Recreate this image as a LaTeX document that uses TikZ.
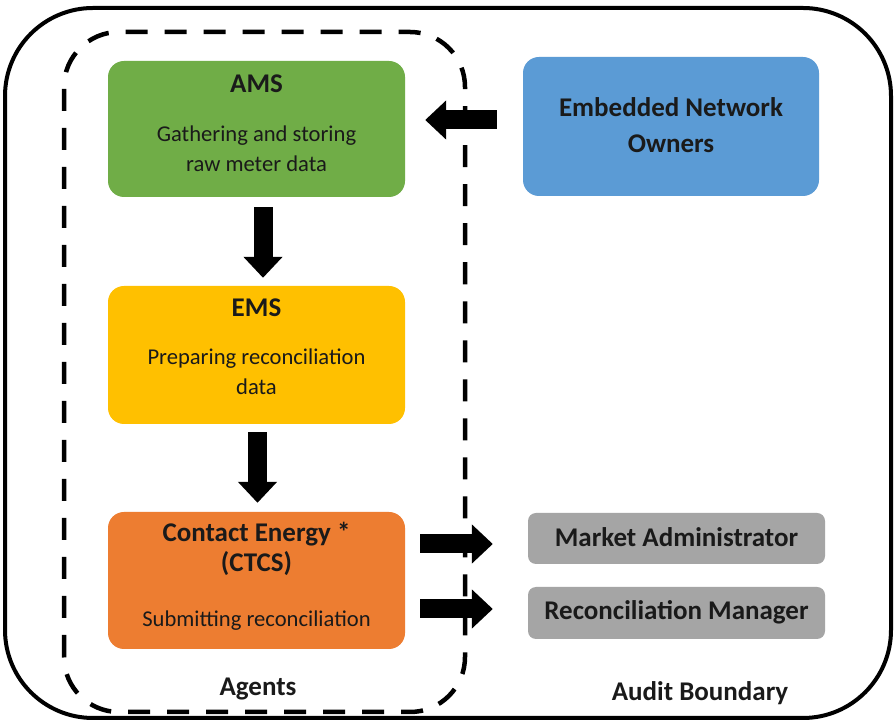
\documentclass[tikz,border=0pt]{standalone}
\usepackage{fontspec}
\setmainfont{Carlito}
\usetikzlibrary{arrows.meta,calc}
\definecolor{amsgreen}{HTML}{70AD47}
\definecolor{emsyellow}{HTML}{FFC000}
\definecolor{ceorange}{HTML}{ED7D31}
\definecolor{enblue}{HTML}{5B9BD5}
\definecolor{boxgray}{HTML}{A5A5A5}
\definecolor{textdark}{HTML}{1A1A1A}
\begin{document}
\begin{tikzpicture}[x=1pt,y=1pt,
  box/.style={rectangle, rounded corners=16pt, minimum width=297pt, inner sep=0pt, draw=none},
  graybox/.style={rectangle, rounded corners=8pt, fill=boxgray, minimum width=297pt, inner sep=0pt, draw=none},
  txt/.style={anchor=base, inner sep=0pt, text=textdark, font=\fontsize{22.6}{26}\selectfont},
  btxt/.style={anchor=base, inner sep=0pt, text=textdark, font=\fontsize{27}{30}\selectfont\bfseries},
  gtxt/.style={anchor=base, inner sep=0pt, text=textdark, font=\fontsize{27}{30}\selectfont\bfseries},
  blockarrow/.style={line width=19pt, -{Triangle[width=38pt,length=21pt]}},
  outerline/.style={line width=4pt, rounded corners=88pt},
  agentline/.style={line width=4.5pt, dash pattern=on 22pt off 17pt, rounded corners=55pt}
]
\useasboundingbox (0,0) rectangle (894,725);
\fill[white] (0,0) rectangle (894,725);

% boundaries
\draw[outerline] (5,7) rectangle (891,717);
\draw[agentline] (64,13) rectangle (465,693);

% boxes
\node[box, fill=amsgreen, minimum height=136pt] (ams) at (256.5,596) {};
\node[box, fill=emsyellow, minimum height=138pt] (ems) at (256.5,370) {};
\node[box, fill=ceorange, minimum height=137pt] (ce) at (256.5,144.5) {};
\node[box, fill=enblue, minimum width=296pt, minimum height=139pt] (en) at (671,598.5) {};
\node[graybox, minimum height=51pt] (ma) at (676.5,186.5) {};
\node[graybox, minimum height=52pt] (rm) at (676.5,112) {};

% texts
\node[btxt] (amsT) at ([yshift=-32pt]ams.north) {AMS};
\node[txt] (amsL1) at ([yshift=-81pt]ams.north) {Gathering and storing};
\node[txt] (amsL2) at ([yshift=-111pt]ams.north) {raw meter data};

\node[btxt] (emsT) at ([yshift=-31pt]ems.north) {EMS};
\node[txt] (emsL1) at ([yshift=-79pt]ems.north) {Preparing reconciliation};
\node[txt] (emsL2) at ([yshift=-109pt]ems.north) {data};

\node[btxt] (ceT1) at ([yshift=-30pt]ce.north) {Contact Energy *};
\node[btxt] (ceT2) at ([yshift=-60pt]ce.north) {(CTCS)};
\node[txt] (ceL1) at ([yshift=-115pt]ce.north) {Submitting reconciliation};

\node[gtxt] (enT1) at ([yshift=-60pt]en.north) {Embedded Network};
\node[gtxt] (enT2) at ([yshift=-96pt]en.north) {Owners};

\node[gtxt] (maT) at ([yshift=-34pt]ma.north) {Market Administrator};
\node[gtxt] (rmT) at ([yshift=-33pt]rm.north) {Reconciliation Manager};

\node[gtxt] (agents) at (258,29) {Agents};
\node[gtxt] (audit) at (700,24.5) {Audit Boundary};

% arrows
\draw[blockarrow] ($(en.west)+(-26,6.5)$) -- ($(ams.east)+(20,9)$);
\draw[blockarrow] ($(ams.south)+(6.5,-10)$) -- ($(ems.north)+(6.5,8)$);
\draw[blockarrow] ($(ems.south)+(1,-8)$) -- ($(ce.north)+(1,9)$);
\draw[blockarrow] ($(ce.east)+(15,36.5)$) -- ($(ma.west)+(-35,-5.5)$);
\draw[blockarrow] ($(ce.east)+(15,-28.5)$) -- ($(rm.west)+(-35,4)$);
\end{tikzpicture}
\end{document}
